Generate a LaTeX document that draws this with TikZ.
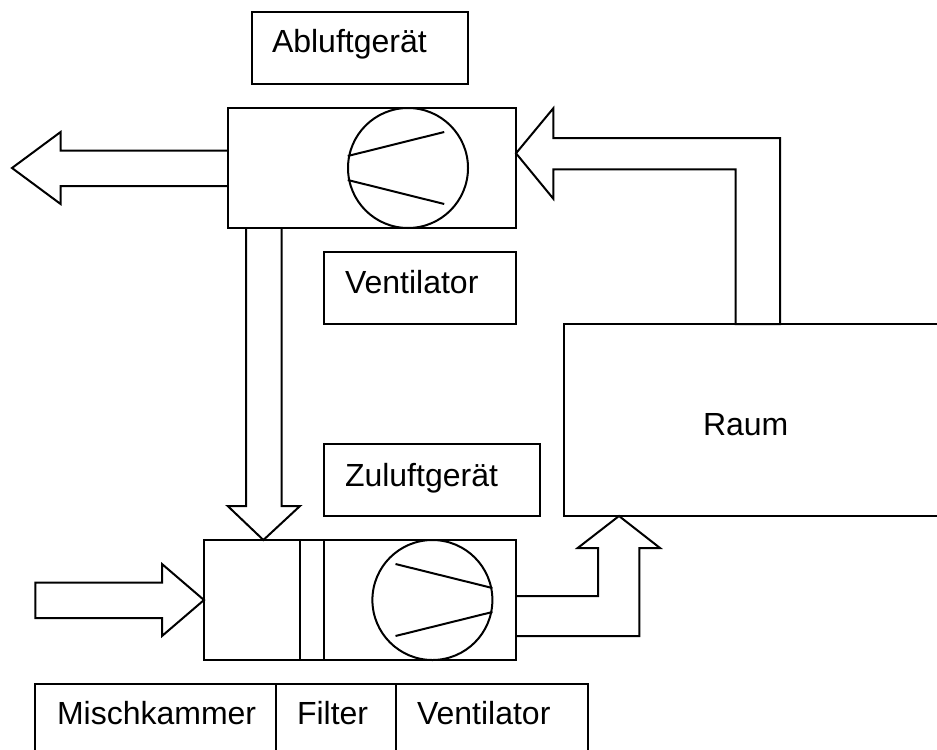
\documentclass[tikz,border=0pt]{standalone}
\usepackage{fontspec}
\setmainfont{Liberation Sans}
\tikzset{
  px/.style={x=0.75pt,y=-0.75pt},
  ln/.style={draw=black,line width=1.5pt,line join=miter,line cap=butt},
  box/.style 2 args={ln,rectangle,anchor=north west,inner sep=0pt,outer sep=0pt,minimum width=#1*0.75pt,minimum height=#2*0.75pt},
  lbl/.style={anchor=base west,inner sep=0pt,outer sep=0pt,font=\fontsize{24}{28}\selectfont},
  fan/.style={ln,circle,inner sep=0pt,outer sep=0pt,minimum size=90pt}
}
\begin{document}
\begin{tikzpicture}[px]
\useasboundingbox (0,0) rectangle (937,749);
\clip (0,0) rectangle (937,749);
% boxes
\node[box={216.5}{72}] (abluftbox) at (251.5,12) {};
\node[box={288}{120}] (topunit) at (228,108) {};
\node[box={192}{72}] (ventbox) at (324,252) {};
\node[box={216}{72}] (zuluftbox) at (324,444) {};
\node[box={380}{192}] (raum) at (564,324) {};
\node[box={312}{120}] (botunit) at (204,540) {};
\node[box={241}{80}] (misch) at (35,684) {};
\node[box={120}{80}] (filter) at (276,684) {};
\node[box={192}{80}] (vent2) at (396,684) {};
% filter lines
\coordinate (f1) at (300,540);
\coordinate (f2) at (324,540);
\draw[ln] (f1) -- (f1 |- botunit.south);
\draw[ln] (f2) -- (f2 |- botunit.south);
% fans
\node[fan] (fanA) at (408,168) {};
\node[fan] (fanB) at (432.4,600) {};
\draw[ln] (347.8,156) -- (444.2,132);
\draw[ln] (347.8,180) -- (444.2,204);
\draw[ln] (492.4,588) -- (395.5,564);
\draw[ln] (492.4,612) -- (395.5,636);
% exhaust arrow
\draw[ln] (topunit.west |- 0,150.5) -- (60.6,150.5) -- (60.6,132) -- (12,168) -- (60.6,204) -- (60.6,186) -- (topunit.west |- 0,186);
% down arrow
\draw[ln] (246,0 |- topunit.south) -- (246,506) -- (227.7,506) -- (263.4,540) -- (300,506) -- (281.7,506) -- (281.7,0 |- topunit.south);
% intake arrow
\draw[ln] (botunit.west) -- (162,564) -- (162,582.7) -- (35.3,582.7) -- (35.3,618) -- (162,618) -- (162,636) -- cycle;
% supply arrow to room
\draw[ln] (botunit.east |- 0,596) -- (598,596) -- (598,548) -- (577.7,548) -- (619,516) -- (660,548) -- (639.3,548) -- (639.3,636) -- (botunit.east |- 0,636);
% return arrow
\draw[ln] (735.7,324) -- (735.7,169.3) -- (553.3,169.3) -- (553.3,198.7) -- (topunit.east |- 0,153.3) -- (553.3,108.3) -- (553.3,138) -- (780,138) -- (780,324) -- cycle;
% labels
\node[lbl] (t1) at (272,52.7) {Abluftgerät};
\node[lbl] (t2) at (345,293.3) {Ventilator};
\node[lbl] (t3) at (345,486) {Zuluftgerät};
\node[lbl] (t4) at (703,435) {Raum};
\node[lbl] (t5) at (57,724) {Mischkammer};
\node[lbl] (t6) at (297,724) {Filter};
\node[lbl] (t7) at (417,724) {Ventilator};
\end{tikzpicture}
\end{document}
